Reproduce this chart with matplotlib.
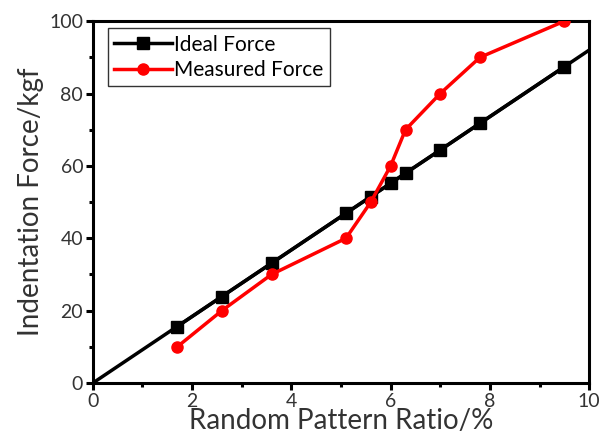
import matplotlib
matplotlib.use("Agg")
import matplotlib.pyplot as plt
from matplotlib.ticker import MultipleLocator

# data
ratio = [1.7, 2.6, 3.6, 5.1, 5.6, 6.0, 6.3, 7.0, 7.8, 9.5]
ideal_force = [15.6, 23.9, 33.1, 46.9, 51.5, 55.2, 58.0, 64.4, 71.8, 87.4]
measured_force = [10, 20, 30, 40, 50, 60, 70, 80, 90, 100]
ideal_line_x = [0, 10]
ideal_line_y = [0, 92.0]

plt.rcParams['font.family'] = ['Lato', 'DejaVu Sans']

fig = plt.figure(figsize=(6.03, 4.41), dpi=100)
ax = fig.add_axes([0.154, 0.1315, 0.823, 0.8205])

ax.plot(ideal_line_x, ideal_line_y, color='black', lw=2.5, zorder=2)
ax.plot(ratio, ideal_force, color='black', lw=2.5, marker='s', ms=8,
        label='Ideal Force', zorder=3)
ax.plot(ratio, measured_force, color='red', lw=2.5, marker='o', ms=8,
        label='Measured Force', zorder=4)

ax.set_xlim(0, 10)
ax.set_ylim(0, 100)
ax.xaxis.set_major_locator(MultipleLocator(2))
ax.xaxis.set_minor_locator(MultipleLocator(1))
ax.yaxis.set_major_locator(MultipleLocator(20))
ax.yaxis.set_minor_locator(MultipleLocator(10))

for s in ax.spines.values():
    s.set_linewidth(2.2)
ax.tick_params(which='major', direction='out', length=5, width=2.2,
               labelsize=14, labelcolor='#333333', pad=2)
ax.tick_params(which='minor', direction='out', length=3, width=2.2)

ax.set_xlabel('Random Pattern Ratio/%', fontsize=20, color='#333333', labelpad=-1)
ax.set_ylabel('Indentation Force/kgf', fontsize=20, color='#333333', labelpad=4)

leg = ax.legend(loc='upper left', bbox_to_anchor=(0.03, 0.98), fontsize=15,
                frameon=True, fancybox=False, edgecolor='black',
                handlelength=2.8, borderaxespad=0, labelspacing=0.25,
                handletextpad=0.1, borderpad=0.3)
leg.get_frame().set_linewidth(1.0)

fig.savefig('out.png', dpi=100)
